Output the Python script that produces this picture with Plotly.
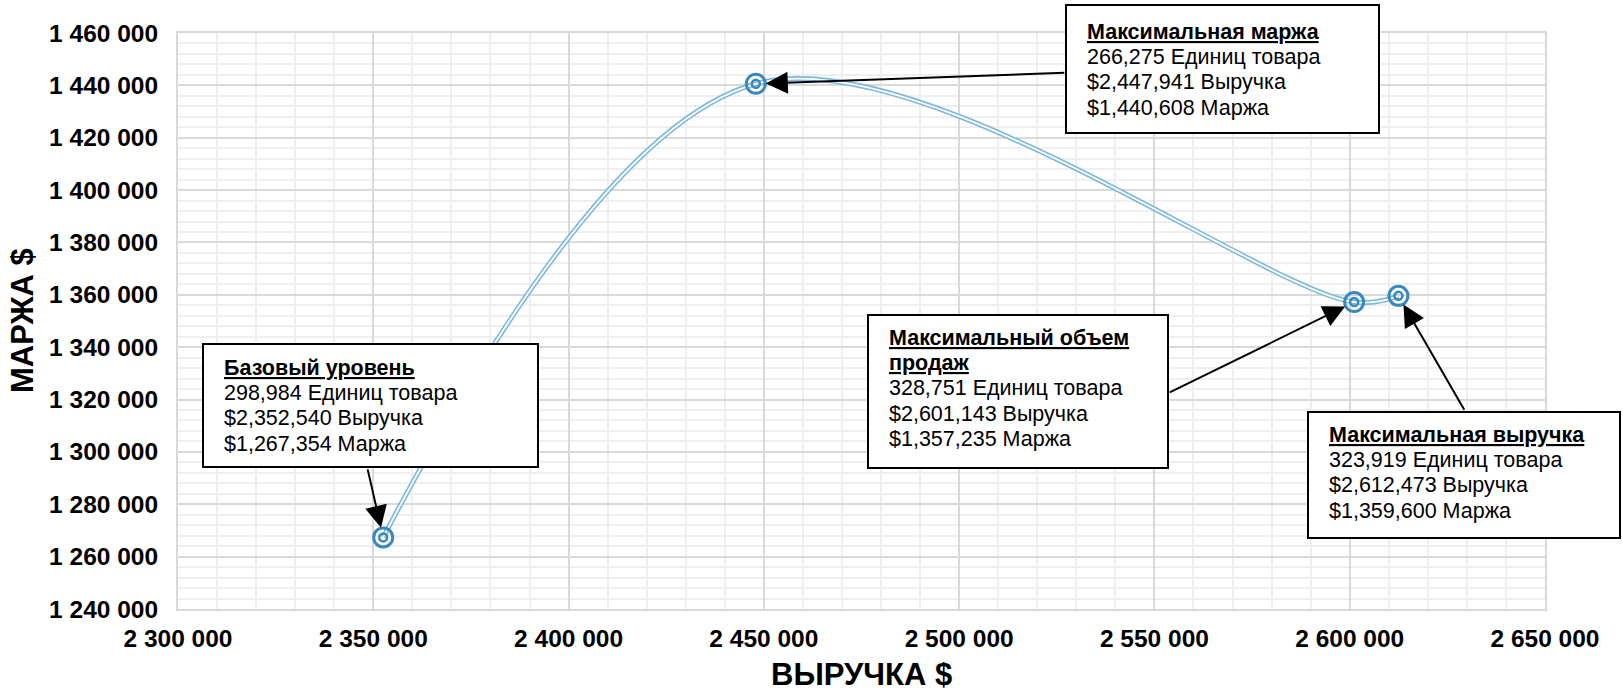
import plotly.graph_objects as go

# Scenario points: revenue (x) vs margin (y)
revenue = [2352540, 2447941, 2601143, 2612473]
margin = [1267354, 1440608, 1357235, 1359600]
units = [298984, 266275, 328751, 323919]
point_titles = [["Базовый уровень"], ["Максимальная маржа"],
                ["Максимальный объем", "продаж"], ["Максимальная выручка"]]

x_ticks_range = [2300000, 2650000]
y_ticks_range = [1240000, 1460000]

FONT = "Liberation Sans, Arial, sans-serif"
LINE_BLUE = "#7db8e0"
MARK_BLUE = "#3a88be"

fig = go.Figure()

# double-stroke smoothed line: blue outer stroke with a white core
fig.add_trace(go.Scatter(x=revenue, y=margin, mode="lines",
                         line=dict(color=LINE_BLUE, width=5, shape="spline", smoothing=1),
                         hoverinfo="skip", showlegend=False))
fig.add_trace(go.Scatter(x=revenue, y=margin, mode="lines",
                         line=dict(color="white", width=1.8, shape="spline", smoothing=1),
                         hoverinfo="skip", showlegend=False))
# ring markers (outer + inner ring)
fig.add_trace(go.Scatter(x=revenue, y=margin, mode="markers",
                         marker=dict(symbol="circle-open", size=19, color=MARK_BLUE,
                                     line=dict(width=3)),
                         showlegend=False))
fig.add_trace(go.Scatter(x=revenue, y=margin, mode="markers",
                         marker=dict(symbol="circle-open", size=8, color=MARK_BLUE,
                                     line=dict(width=2.5)),
                         showlegend=False))

PLOT_L, PLOT_R, PLOT_T, PLOT_B = 178, 1545, 33, 609
W_PX = PLOT_R - PLOT_L
H_PX = PLOT_B - PLOT_T


def px_x(px):
    return (px - PLOT_L) / W_PX


def px_y(py):
    return (PLOT_B - py) / H_PX


def fmt_money(v):
    return "${:,}".format(v)


# callout boxes: (point index, left, top, width, height, first line offset) in pixels
boxes = [
    (0, 203, 344, 335, 123, 24),
    (1, 1066, 5, 313, 128, 27),
    (2, 868, 315, 300, 153, 23),
    (3, 1308, 412, 312, 126, 23),
]
LINE_STEP = 25.2
TEXT_INSET = 19
# arrow tails relative to each point, pixels
arrow_offsets = [(-16, -70), (310, -11), (-186, 91), (67, 116)]

shapes = []
annotations = []
for i, left, top, w, h, first in boxes:
    shapes.append(dict(type="rect", xref="paper", yref="paper",
                       x0=px_x(left), x1=px_x(left + w), y0=px_y(top + h), y1=px_y(top),
                       line=dict(color="black", width=2), fillcolor="white", layer="above"))
    lines = ["<b><u>" + t + "</u></b>" for t in point_titles[i]]
    lines += ["{:,} Единиц товара".format(units[i]),
              fmt_money(revenue[i]) + " Выручка",
              fmt_money(margin[i]) + " Маржа"]
    for k, line in enumerate(lines):
        annotations.append(dict(
            xref="paper", yref="paper", x=px_x(left + TEXT_INSET),
            y=px_y(top + first + k * LINE_STEP),
            xanchor="left", yanchor="middle", text=line, showarrow=False,
            font=dict(family=FONT, size=21.5, color="black"),
        ))

for i, (ax, ay) in enumerate(arrow_offsets):
    annotations.append(dict(
        x=revenue[i], y=margin[i], xref="x", yref="y", text=" ",
        font=dict(size=1), showarrow=True, ax=ax, ay=ay,
        arrowhead=2, arrowsize=2.2, arrowwidth=2, arrowcolor="black",
        standoff=10,
    ))

# axis titles
annotations.append(dict(xref="paper", yref="paper", x=0.5, y=px_y(674),
                        xanchor="center", yanchor="middle", showarrow=False,
                        text="<b>ВЫРУЧКА $</b>",
                        font=dict(family=FONT, size=31, color="black")))
annotations.append(dict(xref="paper", yref="paper", x=px_x(22), y=0.5,
                        xanchor="center", yanchor="middle", showarrow=False,
                        textangle=-90, text="<b>МАРЖА $</b>",
                        font=dict(family=FONT, size=31, color="black")))

fig.update_layout(
    width=1623, height=693,
    margin=dict(l=PLOT_L, r=1623 - PLOT_R, t=PLOT_T, b=693 - PLOT_B),
    paper_bgcolor="white", plot_bgcolor="white",
    separators=", ",
    font=dict(family=FONT, color="black"),
    shapes=shapes,
    annotations=annotations,
    showlegend=False,
)

fig.update_xaxes(
    range=x_ticks_range, dtick=50000, tick0=2300000, tickformat=",d",
    tickfont=dict(family=FONT, size=24.5, color="black", weight="bold"),
    showgrid=True, gridcolor="#d9d9d9", gridwidth=2,
    minor=dict(dtick=10000, showgrid=True, gridcolor="#efefef", gridwidth=2),
    showline=True, linecolor="#d9d9d9", linewidth=2, mirror=True,
    zeroline=False, ticks="", ticklabelstandoff=7, automargin=False,
)
fig.update_yaxes(
    range=y_ticks_range, dtick=20000, tick0=1240000, tickformat=",d",
    tickfont=dict(family=FONT, size=24.5, color="black", weight="bold"),
    showgrid=True, gridcolor="#d9d9d9", gridwidth=2,
    minor=dict(dtick=4000, showgrid=True, gridcolor="#efefef", gridwidth=2),
    showline=True, linecolor="#d9d9d9", linewidth=2, mirror=True,
    zeroline=False, ticks="", ticklabelstandoff=13, automargin=False,
)

fig.write_html("out.html")
